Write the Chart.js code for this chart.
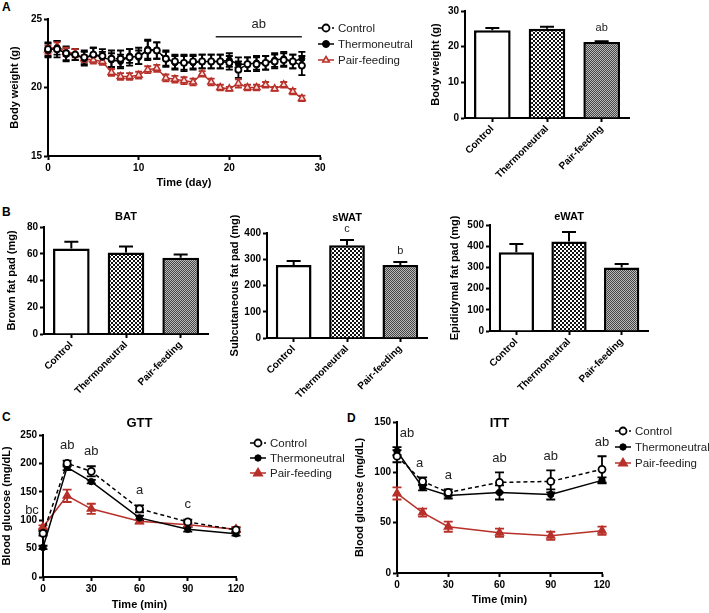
<!DOCTYPE html>
<html>
<head>
<meta charset="utf-8">
<script src="https://cdn.jsdelivr.net/npm/chart.js@4.4.0/dist/chart.umd.min.js"></script>
<style>
  body { margin: 0; width: 709px; height: 613px; background: #fff; position: relative; overflow: hidden; font-family: "Liberation Sans", Arial, sans-serif; }
  canvas { position: absolute; }
  .tag { position: absolute; font-weight: bold; font-size: 12px; color: #000; }
</style>
</head>
<body>
<div class="tag" style="left:2px;top:0px">A</div>
<div class="tag" style="left:2px;top:205px">B</div>
<div class="tag" style="left:2px;top:410px">C</div>
<div class="tag" style="left:347px;top:411px">D</div>

<canvas id="bwLine"></canvas>
<canvas id="bwBar"></canvas>
<canvas id="batBar"></canvas>
<canvas id="swatBar"></canvas>
<canvas id="ewatBar"></canvas>
<canvas id="gttLine"></canvas>
<canvas id="ittLine"></canvas>

<script>
// ---- data ----
const groups = ['Control', 'Thermoneutral', 'Pair-feeding'];

const days = [0, 1, 2, 3, 4, 5, 6, 7, 8, 9, 10, 11, 12, 13, 14, 15, 16, 17, 18, 19, 20, 21, 22, 23, 24, 25, 26, 27, 28];
const bwControl = [22.8, 22.8, 22.5, 22.4, 22.2, 22.4, 22.3, 22.1, 22.1, 22.2, 22.3, 22.7, 22.7, 22.1, 21.9, 21.8, 21.9, 21.9, 21.9, 21.9, 21.8, 21.3, 21.7, 21.7, 21.8, 21.9, 22.0, 21.9, 21.6];
const bwControlErr = [0.5, 0.6, 0.5, 0.4, 0.5, 0.5, 0.5, 0.6, 0.6, 0.6, 0.6, 0.7, 0.6, 0.6, 0.5, 0.6, 0.5, 0.5, 0.5, 0.5, 0.5, 0.6, 0.5, 0.5, 0.5, 0.5, 0.5, 0.5, 0.7];
const bwThermo = [22.7, 22.9, 22.4, 22.4, 22.1, 22.4, 22.2, 22.0, 21.9, 22.3, 22.2, 22.8, 22.7, 22.1, 21.8, 21.8, 21.8, 21.9, 21.9, 21.9, 22.0, 21.7, 21.7, 21.8, 21.8, 22.0, 22.1, 21.9, 22.1];
const bwThermoErr = [0.5, 0.5, 0.5, 0.4, 0.5, 0.5, 0.4, 0.5, 0.5, 0.5, 0.5, 0.7, 0.6, 0.5, 0.5, 0.5, 0.5, 0.5, 0.5, 0.5, 0.5, 0.5, 0.5, 0.5, 0.5, 0.5, 0.5, 0.5, 0.5];
const bwPair = [22.75, 23.0, 22.6, 22.5, 22.1, 22.0, 21.9, 21.1, 20.8, 20.8, 20.9, 21.3, 21.4, 20.7, 20.6, 20.5, 20.4, 21.0, 20.4, 20.0, 19.9, 20.3, 20.0, 20.0, 20.2, 19.9, 20.2, 19.7, 19.2];
const bwPairErr = [0.3, 0.3, 0.3, 0.3, 0.25, 0.25, 0.25, 0.25, 0.25, 0.25, 0.25, 0.25, 0.25, 0.25, 0.25, 0.25, 0.25, 0.2, 0.25, 0.2, 0.15, 0.3, 0.2, 0.2, 0.2, 0.15, 0.2, 0.2, 0.2];

const bwFinal = [24.6, 25.0, 21.3];
const bwFinalErr = [0.6, 0.6, 0.2];
const bwFinalLetters = ['', '', 'ab'];

const batVals = [64, 61, 57];
const batErr = [5, 4.5, 2.5];
const swatVals = [278, 353, 278];
const swatErr = [15, 20, 12];
const swatLetters = ['', 'c', 'b'];
const ewatVals = [372, 422, 299];
const ewatErr = [38, 45, 17];

const minutes = [0, 15, 30, 60, 90, 120];
const gttControl = [77, 200, 186, 120, 97, 83];
const gttControlErr = [4, 5, 9, 6, 4, 4];
const gttThermo = [52, 193, 168, 104, 84, 76];
const gttThermoErr = [3, 5, 3, 4, 4, 3];
const gttPair = [88, 143, 120, 98, 92, 84];
const gttPairErr = [3, 11, 9, 4, 4, 4];
const gttLetters = ['bc', 'ab', 'ab', 'a', 'c', ''];

const ittControl = [116, 91, 80, 90, 91, 103];
const ittControlErr = [6, 4, 3, 10, 11, 13];
const ittThermo = [121, 85, 77, 80, 78, 92];
const ittThermoErr = [4, 3, 3, 7, 5, 3];
const ittPair = [79, 60, 46, 40, 37, 42];
const ittPairErr = [6, 4, 5, 4, 4, 4];
const ittLetters = ['ab', 'a', 'a', 'ab', 'ab', 'ab'];

// ---- look ----
const FONT = '"Liberation Sans", Arial, sans-serif';
const RED = '#b8302a';

function checker(cell, a, b) {
  const c = document.createElement('canvas');
  c.width = c.height = cell * 2;
  const x = c.getContext('2d');
  x.fillStyle = b; x.fillRect(0, 0, cell * 2, cell * 2);
  x.fillStyle = a; x.fillRect(0, 0, cell, cell); x.fillRect(cell, cell, cell, cell);
  return x.createPattern(c, 'repeat');
}
const barFills = ['#ffffff', checker(2, '#111', '#fff'), checker(1, '#444', '#bbb')];

// error bars: both ways on lines, up only on bars
const errorBars = {
  id: 'errorBars',
  draw(chart, up) {
    const ctx = chart.ctx;
    chart.data.datasets.forEach((ds, i) => {
      if (!ds.errors) return;
      const meta = chart.getDatasetMeta(i);
      const ys = chart.scales[meta.yAxisID];
      ctx.save();
      ctx.strokeStyle = ds.errorColor || ds.borderColor;
      ctx.lineWidth = ds.errorWidth || 2;
      ctx.setLineDash([]);
      const cap = ds.capHalf || 4;
      meta.data.forEach((el, j) => {
        const raw = ds.data[j];
        const v = typeof raw === 'object' ? raw.y : raw;
        const top = ys.getPixelForValue(v + ds.errors[j]);
        const bot = up ? el.y : ys.getPixelForValue(v - ds.errors[j]);
        ctx.beginPath();
        ctx.moveTo(el.x, top); ctx.lineTo(el.x, bot);
        ctx.moveTo(el.x - cap, top); ctx.lineTo(el.x + cap, top);
        if (!up) { ctx.moveTo(el.x - cap, bot); ctx.lineTo(el.x + cap, bot); }
        ctx.stroke();
      });
      ctx.restore();
    });
  },
  beforeDatasetsDraw(chart) { if (chart.config.type === 'line') this.draw(chart, false); },
  afterDatasetsDraw(chart) { if (chart.config.type === 'bar') this.draw(chart, true); }
};

// significance letters placed above the highest error bar at each x
const letters = {
  id: 'letters',
  afterDatasetsDraw(chart, args, opts) {
    if (!opts || !opts.text) return;
    const ctx = chart.ctx;
    ctx.save();
    ctx.fillStyle = '#222';
    ctx.font = (opts.size || 13) + 'px ' + FONT;
    ctx.textAlign = 'center';
    ctx.textBaseline = 'middle';
    opts.text.forEach((t, j) => {
      if (!t) return;
      let top = Infinity, x = 0;
      chart.data.datasets.forEach((ds, i) => {
        const meta = chart.getDatasetMeta(i);
        const raw = ds.data[j];
        const v = typeof raw === 'object' ? raw.y : raw;
        const py = chart.scales[meta.yAxisID].getPixelForValue(v + (ds.errors ? ds.errors[j] : 0));
        if (py < top) top = py;
        x = meta.data[j].x;
      });
      ctx.fillText(t, x + (opts.dx ? opts.dx[j] : 0), top - opts.gap);
    });
    ctx.restore();
  }
};

// legend drawn as line + marker, like the original
const lineLegend = {
  id: 'lineLegend',
  afterDraw(chart, args, opts) {
    if (!opts || opts.dx === undefined) return;
    const ctx = chart.ctx;
    const a = chart.chartArea;
    let y = a.top + opts.dy;
    const x0 = a.right + opts.dx;
    chart.data.datasets.forEach(ds => {
      ctx.save();
      ctx.strokeStyle = ds.borderColor;
      ctx.lineWidth = 1.5;
      ctx.setLineDash(ds.borderDash || []);
      ctx.beginPath(); ctx.moveTo(x0, y); ctx.lineTo(x0 + 16, y); ctx.stroke();
      ctx.setLineDash([]);
      ctx.fillStyle = ds.pointBackgroundColor;
      ctx.strokeStyle = ds.pointBorderColor;
      ctx.lineWidth = ds.pointBorderWidth;
      const cx = x0 + 8, r = opts.r || ds.pointRadius;
      ctx.beginPath();
      if (ds.pointStyle === 'triangle') {
        ctx.moveTo(cx, y - r); ctx.lineTo(cx + r * 0.95, y + r * 0.6); ctx.lineTo(cx - r * 0.95, y + r * 0.6); ctx.closePath();
      } else {
        ctx.arc(cx, y, r, 0, Math.PI * 2);
      }
      ctx.fill(); ctx.stroke();
      ctx.fillStyle = '#222';
      ctx.font = '11.5px ' + FONT;
      ctx.textBaseline = 'middle';
      ctx.fillText(ds.label, x0 + 20, y + 0.5);
      ctx.restore();
      y += opts.step;
    });
  }
};

// panel title and the day-18..28 bracket
const extras = {
  id: 'extras',
  afterDraw(chart, args, opts) {
    if (!opts) return;
    const ctx = chart.ctx;
    const a = chart.chartArea;
    ctx.save();
    ctx.fillStyle = '#000';
    ctx.textAlign = 'center';
    ctx.textBaseline = 'middle';
    if (opts.title) {
      ctx.font = 'bold ' + opts.titleSize + 'px ' + FONT;
      ctx.fillText(opts.title, (a.left + a.right) / 2 + (opts.titleDx || 0), a.top + opts.titleDy);
    }
    if (opts.bracket) {
      const b = opts.bracket;
      const xs = chart.scales.x, ys = chart.scales.y;
      const y = ys.getPixelForValue(b.y);
      ctx.strokeStyle = '#222'; ctx.lineWidth = 1.5;
      ctx.beginPath(); ctx.moveTo(xs.getPixelForValue(b.from), y); ctx.lineTo(xs.getPixelForValue(b.to), y); ctx.stroke();
      ctx.fillStyle = '#222';
      ctx.font = '13px ' + FONT;
      ctx.fillText(b.text, xs.getPixelForValue((b.from + b.to) / 2), y - 12);
    }
    ctx.restore();
  }
};

Chart.register(errorBars, letters, lineLegend, extras);

// put the canvas where it goes and pin the plot area to given page pixels
function place(id, box, area) {
  const c = document.getElementById(id);
  c.style.left = box.l + 'px';
  c.style.top = box.t + 'px';
  c.width = box.r - box.l;
  c.height = box.b - box.t;
  c.style.width = c.width + 'px';
  c.style.height = c.height + 'px';
  return {
    canvas: c,
    padding: { top: area.t - box.t, right: box.r - area.r, left: 0, bottom: 0 },
    yw: area.l - box.l,
    xh: box.b - area.b
  };
}

function axisBase(fit) {
  return {
    border: { display: true, color: '#000', width: 2 },
    grid: { display: true, drawOnChartArea: false, drawTicks: true, tickLength: 4, tickColor: '#000', tickWidth: 2, offset: false },
    ticks: { color: '#000', font: { family: FONT, size: 10, weight: 'bold' }, padding: 2 },
    afterFit: fit
  };
}

function barChart(id, box, area, vals, errs, yOpts, yTitle, lettersOpt, extrasOpt) {
  const p = place(id, box, area);
  const x = axisBase(s => { s.height = p.xh; });
  x.ticks = Object.assign({}, x.ticks, { minRotation: 45, maxRotation: 45, padding: 1 });
  const y = axisBase(s => { s.width = p.yw; });
  Object.assign(y, { min: yOpts.min, max: yOpts.max });
  y.ticks = Object.assign({}, y.ticks, { stepSize: yOpts.step });
  y.title = { display: true, text: yTitle, color: '#000', font: { family: FONT, size: 11, weight: 'bold' }, padding: 0 };
  return new Chart(p.canvas, {
    type: 'bar',
    data: {
      labels: groups,
      datasets: [{
        data: vals,
        errors: errs,
        errorColor: '#000',
        errorWidth: 2,
        capHalf: 7,
        backgroundColor: barFills,
        borderColor: '#000',
        borderWidth: 2.5,
        borderSkipped: 'bottom',
        barPercentage: 0.67,
        categoryPercentage: 1
      }]
    },
    options: {
      responsive: false,
      animation: false,
      layout: { padding: p.padding },
      plugins: { legend: { display: false }, tooltip: { enabled: false }, letters: lettersOpt, extras: extrasOpt },
      scales: { x: x, y: y }
    }
  });
}

function seriesStyle(kind, pairFill, small) {
  if (kind === 0) return { borderColor: '#000', borderDash: [4, 3], borderWidth: 1.5, pointStyle: 'circle', pointRadius: small ? 3 : 3.5, pointBackgroundColor: '#fff', pointBorderColor: '#000', pointBorderWidth: 1.8, errorColor: '#000' };
  if (kind === 1) return { borderColor: '#000', borderWidth: 1.5, pointStyle: 'circle', pointRadius: small ? 3 : 3.2, pointBackgroundColor: '#000', pointBorderColor: '#000', pointBorderWidth: 1, errorColor: '#000' };
  return { borderColor: RED, borderWidth: 1.5, pointStyle: 'triangle', pointRadius: small ? 4 : 4.5, pointBackgroundColor: pairFill, pointBorderColor: RED, pointBorderWidth: 1.5, errorColor: RED };
}

function lineChart(id, box, area, xs, series, errs, xOpts, yOpts, xTitle, yTitle, pairFill, capHalf, small, plugins) {
  const p = place(id, box, area);
  const x = axisBase(s => { s.height = p.xh; });
  Object.assign(x, { type: 'linear', min: xOpts.min, max: xOpts.max });
  x.ticks = Object.assign({}, x.ticks, { stepSize: xOpts.step });
  x.title = { display: true, text: xTitle, color: '#000', font: { family: FONT, size: 11, weight: 'bold' }, padding: 0 };
  const y = axisBase(s => { s.width = p.yw; });
  Object.assign(y, { min: yOpts.min, max: yOpts.max });
  y.ticks = Object.assign({}, y.ticks, { stepSize: yOpts.step });
  y.title = { display: true, text: yTitle, color: '#000', font: { family: FONT, size: 11, weight: 'bold' }, padding: 0 };
  const datasets = series.map((vals, k) => Object.assign({
    label: groups[k],
    data: xs.map((t, i) => ({ x: t, y: vals[i] })),
    errors: errs[k],
    errorWidth: 1.8,
    capHalf: capHalf,
    clip: false,
    tension: 0
  }, seriesStyle(k, pairFill, small)));
  // pair-feeding drawn first so the black groups sit on top, as in the original
  datasets[2].order = 3; datasets[0].order = 1; datasets[1].order = 2;
  return new Chart(p.canvas, {
    type: 'line',
    data: { datasets: datasets },
    options: {
      responsive: false,
      animation: false,
      layout: { padding: p.padding },
      plugins: Object.assign({ legend: { display: false }, tooltip: { enabled: false } }, plugins),
      scales: { x: x, y: y }
    }
  });
}

// ---- panel A ----
lineChart('bwLine', { l: 8, t: 0, r: 440, b: 190 }, { l: 48, t: 19, r: 320, b: 156 },
  days, [bwControl, bwThermo, bwPair], [bwControlErr, bwThermoErr, bwPairErr],
  { min: 0, max: 30, step: 10 }, { min: 15, max: 25, step: 5 },
  'Time (day)', 'Body weight (g)', '#f6dcda', 3.5, true,
  { lineLegend: { dx: -2, dy: 9, step: 16, r: 3.5 }, extras: { bracket: { from: 18.5, to: 28, y: 23.7, text: 'ab' } } });

barChart('bwBar', { l: 429, t: 0, r: 660, b: 195 }, { l: 465, t: 11, r: 629, b: 118 },
  bwFinal, bwFinalErr, { min: 0, max: 30, step: 10 }, 'Body weight (g)',
  { text: bwFinalLetters, gap: 13, size: 11 }, null);

// ---- panel B ----
barChart('batBar', { l: 5, t: 200, r: 225, b: 405 }, { l: 44, t: 227, r: 208, b: 334 },
  batVals, batErr, { min: 0, max: 80, step: 20 }, 'Brown fat pad (mg)',
  null, { title: 'BAT', titleSize: 11, titleDy: -10 });

barChart('swatBar', { l: 228, t: 200, r: 450, b: 405 }, { l: 267, t: 233, r: 427, b: 338 },
  swatVals, swatErr, { min: 0, max: 400, step: 100 }, 'Subcutaneous fat pad (mg)',
  { text: swatLetters, gap: 11, size: 11 }, { title: 'sWAT', titleSize: 11, titleDy: -15 });

barChart('ewatBar', { l: 448, t: 200, r: 680, b: 405 }, { l: 490, t: 225, r: 648, b: 331 },
  ewatVals, ewatErr, { min: 0, max: 500, step: 100 }, 'Epididymal fat pad (mg)',
  null, { title: 'eWAT', titleSize: 11, titleDy: -8 });

// ---- panels C and D ----
lineChart('gttLine', { l: 0, t: 400, r: 350, b: 612 }, { l: 43, t: 435, r: 236, b: 577 },
  minutes, [gttControl, gttThermo, gttPair], [gttControlErr, gttThermoErr, gttPairErr],
  { min: 0, max: 120, step: 30 }, { min: 0, max: 250, step: 50 },
  'Time (min)', 'Blood glucose (mg/dL)', RED, 4.5, false,
  { lineLegend: { dx: 14, dy: 8, step: 15 }, letters: { text: gttLetters, gap: 15, size: 13, dx: [-11, 0, 0, 0, 0, 0] },
    extras: { title: 'GTT', titleSize: 13, titleDy: -12 } });

lineChart('ittLine', { l: 353, t: 400, r: 709, b: 607 }, { l: 397, t: 422, r: 602, b: 573 },
  minutes, [ittControl, ittThermo, ittPair], [ittControlErr, ittThermoErr, ittPairErr],
  { min: 0, max: 120, step: 30 }, { min: 0, max: 150, step: 50 },
  'Time (min)', 'Blood glucose (mg/dL)', RED, 4.5, false,
  { lineLegend: { dx: 13, dy: 9, step: 16 }, letters: { text: ittLetters, gap: 14, size: 13, dx: [10, -3, 0, 0, 0, 0] },
    extras: { title: 'ITT', titleSize: 13, titleDy: 1 } });
</script>
</body>
</html>
